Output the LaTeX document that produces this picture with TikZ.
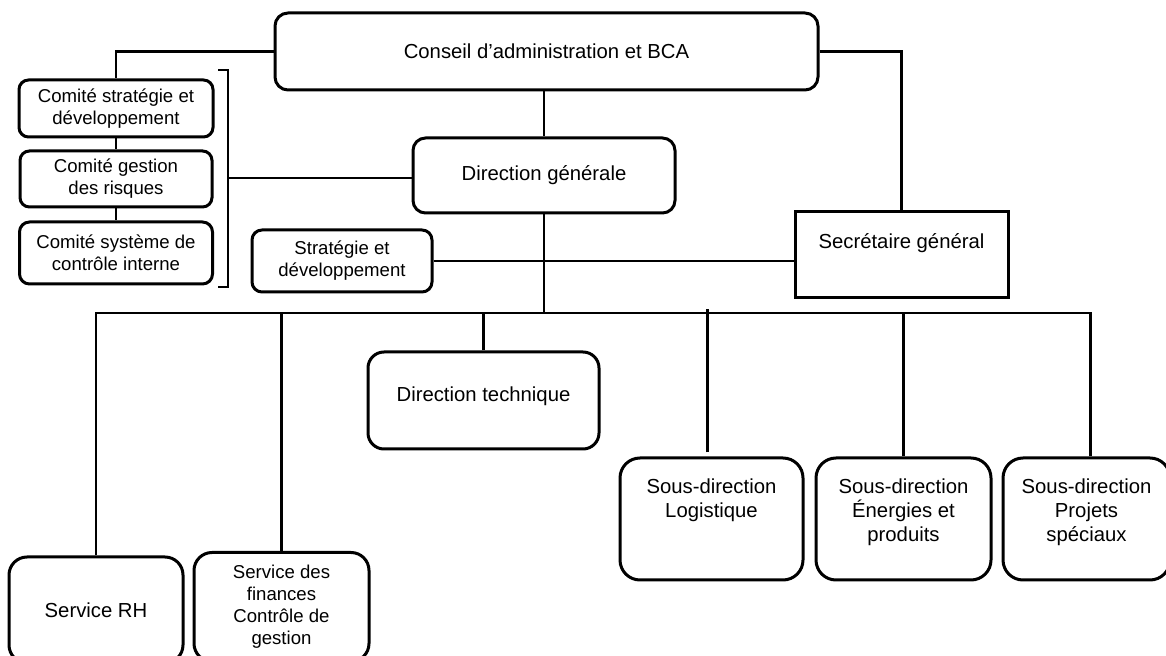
\documentclass[tikz,border=0pt]{standalone}
\usepackage{fontspec}
\setmainfont{Liberation Sans}
\usepackage{tikz}
\usetikzlibrary{positioning}

\begin{document}
\begin{tikzpicture}[
    x=0.5pt, y=-0.5pt,
    rbox/.style={draw, line width=1.5pt, rounded corners=#1, align=center,
                 inner sep=0pt, font=\fontsize{10.15pt}{12pt}\selectfont},
    rbox/.default=5pt,
    sqbox/.style={draw, line width=1.5pt, inner sep=0pt},
    smalltxt/.style={font=\fontsize{9.3pt}{11pt}\selectfont},
    toplbl/.style={inner sep=0pt, align=center, font=\fontsize{10.15pt}{12pt}\selectfont},
    conn/.style={line width=1.4pt},
    node distance=5pt
]
\useasboundingbox (0,0) rectangle (1166,656);
\clip (0,0) rectangle (1166,656);

\node[rbox=6.5pt, minimum width=271.5pt, minimum height=38.5pt] (conseil) at (546.5,51.5) {Conseil d’administration et BCA};
\node[rbox=6.25pt, minimum width=131pt, minimum height=37.5pt] (dg) at (544,175.5) {Direction générale};
\node[rbox=4.75pt, smalltxt, minimum width=97pt, minimum height=28.5pt] (comstrat) at (116,108.5) {Comité stratégie et\\développement};
\node[rbox=4.7pt, smalltxt, minimum width=96pt, minimum height=28pt, below=5.5pt of comstrat] (comrisk) {Comité gestion\\des risques};
\node[rbox=5pt, smalltxt, minimum width=96.5pt, minimum height=31pt, below=6pt of comrisk] (comsci) {Comité système de\\contrôle interne};
\node[rbox=5pt, smalltxt, minimum width=90pt, minimum height=31pt] (strat) at (342,261) {Stratégie et\\développement};
\node[sqbox, minimum width=106.5pt, minimum height=43pt,
      label={[toplbl, anchor=base, yshift=-19.15pt]north:Secrétaire général}] (secr) at (901.5,255) {};
\node[rbox=8pt, minimum width=115.5pt, minimum height=48.5pt,
      label={[toplbl, anchor=base, yshift=-25.65pt]north:Direction technique}] (dtech) at (483.5,400.5) {};
\node[rbox=9pt, minimum width=87pt, minimum height=53pt] (srh) at (96,610) {Service RH};
\node[rbox=9pt, smalltxt, minimum width=87.5pt, minimum height=54.5pt] (sfin) at (281.5,607) {Service des\\finances\\Contrôle de\\gestion};
\node[rbox=10pt, minimum width=91.5pt, minimum height=61pt,
      label={[toplbl, anchor=north, yshift=-10.75pt]north:{Sous-direction\\Logistique}}] (sdlog) at (711.5,519) {};
\node[rbox=10pt, minimum width=87.5pt, minimum height=61pt, right=5pt of sdlog,
      label={[toplbl, anchor=north, yshift=-10.75pt]north:{Sous-direction\\Énergies et\\produits}}] (sdener) {};
\node[rbox=10pt, minimum width=83.5pt, minimum height=61pt, right=4.5pt of sdener,
      label={[toplbl, anchor=north, yshift=-10.75pt]north:{Sous-direction\\Projets\\spéciaux}}] (sdproj) {};

\coordinate (brtop) at (228,70);
\coordinate (brbot) at (228,287);
\coordinate (brmid) at (228,178);
\coordinate (bus) at (543,313);
\coordinate (busup) at (543,309);

\draw[conn] (conseil.west) -| (comstrat.north);
\draw[conn] (comstrat) -- (comrisk);
\draw[conn] (comrisk) -- (comsci);
\draw[conn] ([xshift=-5pt]brtop) -- (brtop) -- (brbot) -- ([xshift=-5pt]brbot);
\draw[conn] (brmid) -- (brmid -| dg.west);
\draw[conn] (conseil.south -| dg.north) -- (dg.north);
\draw[conn] (conseil.east) -| (secr.north);
\draw[conn] (strat.east) -- (strat.east -| secr.west);
\draw[conn] (dg.south) -- (dg.south |- bus);
\draw[conn] (srh.north) |- (bus) -| ([xshift=2pt]sdproj.north);
\foreach \n in {sfin, dtech, sdener}
  \draw[conn] (\n.north) -- (\n.north |- bus);
\draw[conn] ([shift={(-2pt,2pt)}]sdlog.north) -- ([xshift=-2pt]sdlog.north |- busup);
\end{tikzpicture}
\end{document}
